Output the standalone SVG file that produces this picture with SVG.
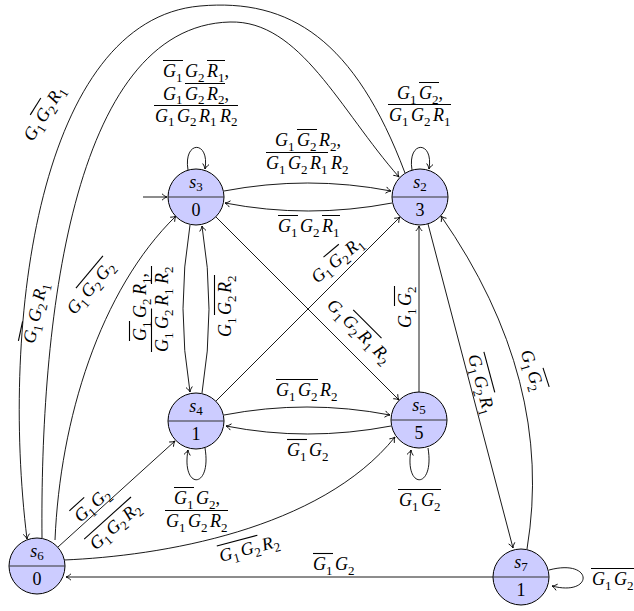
<svg xmlns="http://www.w3.org/2000/svg" width="634" height="611" viewBox="0 0 634 611">
<style>
.bg{fill:#ffffff}
.node circle{fill:#ccccff;stroke:#000;stroke-width:1}
.node .sp{stroke:#333;stroke-width:1.2}
.nt{font-family:"Liberation Serif",serif;font-size:18px;fill:#000}
.ns{font-family:"Liberation Serif",serif;font-size:18px;font-style:italic}
.e{fill:none;stroke:#000;stroke-width:0.9}
.t{font-family:"Liberation Serif",serif;font-size:18px;font-style:italic;fill:#000}
.s{font-size:13px;font-style:normal}
.n{font-style:normal}
.ov{stroke:#000;stroke-width:1.1;fill:none}
</style>
<defs>
<marker id="ar" markerWidth="10" markerHeight="10" refX="0" refY="0" viewBox="-6 -5 8 10" orient="auto" markerUnits="userSpaceOnUse">
<path d="M-5,-3.2 C-3,-1.3 -1.2,-0.3 0,0 C-1.2,0.3 -3,1.3 -5,3.2" fill="none" stroke="#000" stroke-width="0.9"/>
</marker>
</defs>
<rect class="bg" x="0" y="0" width="634" height="611"/>

<g id="connectors">
<path class="e" d="M143,197 H167" marker-end="url(#ar)"/>
<path class="e" d="M188,170 C183,140 210,140 205,169" marker-end="url(#ar)"/>
<path class="e" d="M412,170 C407,140 434,140 429,169" marker-end="url(#ar)"/>
<path class="e" d="M224,191 Q308,175 391,191" marker-end="url(#ar)"/>
<path class="e" d="M392,203 Q308,219 225,203" marker-end="url(#ar)"/>
<path class="e" d="M190,225 Q176,309 190,392" marker-end="url(#ar)"/>
<path class="e" d="M202,393 Q216,309 202,226" marker-end="url(#ar)"/>
<path class="e" d="M216,217 L399,400" marker-end="url(#ar)"/>
<path class="e" d="M216,401 L400,217" marker-end="url(#ar)"/>
<path class="e" d="M419,392 L419,226" marker-end="url(#ar)"/>
<path class="e" d="M428,224 L513,548" marker-end="url(#ar)"/>
<path class="e" d="M527,549 Q555,380 441,216" marker-end="url(#ar)"/>
<path class="e" d="M224,415 Q307,399 390,415" marker-end="url(#ar)"/>
<path class="e" d="M391,426 Q307,442 226,426" marker-end="url(#ar)"/>
<path class="e" d="M205,448 C212,490 181,490 188,450" marker-end="url(#ar)"/>
<path class="e" d="M428,448 C435,490 404,490 411,450" marker-end="url(#ar)"/>
<path class="e" d="M58,547 L175,441" marker-end="url(#ar)"/>
<path class="e" d="M64,560 C160,556 320,530 395,437" marker-end="url(#ar)"/>
<path class="e" d="M493,577 L66,577" marker-end="url(#ar)"/>
<path class="e" d="M549,570 C594,558 594,597 552,586" marker-end="url(#ar)"/>
<path class="e" d="M405,173 C355,40 290,-2 200,6 C40,20 0,320 27,539" marker-end="url(#ar)"/>
<path class="e" d="M42,538 C40,330 70,26 230,22 C300,20 340,110 399,177" marker-end="url(#ar)"/>
<path class="e" d="M55,540 C60,420 100,290 176,216" marker-end="url(#ar)"/>
</g>

<g id="labels">
<g id="lbl-s3-loop">
<text class="t"><tspan x="163" y="77">G</tspan><tspan class="s" y="81.5">1</tspan><tspan x="185" y="77">G</tspan><tspan class="s" y="81.5">2</tspan><tspan x="207" y="77">R</tspan><tspan class="s" y="81.5">1</tspan><tspan class="n" y="77">,</tspan></text>
<text class="t"><tspan x="163" y="100">G</tspan><tspan class="s" y="104">1</tspan><tspan x="185" y="100">G</tspan><tspan class="s" y="104">2</tspan><tspan x="207" y="100">R</tspan><tspan class="s" y="104">2</tspan><tspan class="n" y="100">,</tspan></text>
<text class="t"><tspan x="155" y="122">G</tspan><tspan class="s" y="126">1</tspan><tspan x="177" y="122">G</tspan><tspan class="s" y="126">2</tspan><tspan x="199" y="122">R</tspan><tspan class="s" y="126">1</tspan><tspan x="220" y="122">R</tspan><tspan class="s" y="126">2</tspan></text>
<path class="ov" d="M163,60.5 H183 M207,60.5 H225 M185,83.5 H225 M154,105.5 H238"/>
</g>
<g id="lbl-s2-loop">
<text class="t"><tspan x="397" y="99">G</tspan><tspan class="s" y="103.5">1</tspan><tspan x="419" y="99">G</tspan><tspan class="s" y="103.5">2</tspan><tspan class="n" y="99">,</tspan></text>
<text class="t"><tspan x="389" y="121">G</tspan><tspan class="s" y="125.5">1</tspan><tspan x="411" y="121">G</tspan><tspan class="s" y="125.5">2</tspan><tspan x="433" y="121">R</tspan><tspan class="s" y="125.5">1</tspan></text>
<path class="ov" d="M419,82.5 H439 M388,104.5 H451"/>
</g>
<g id="lbl-s3-s2">
<text class="t"><tspan x="275" y="146">G</tspan><tspan class="s" y="150.5">1</tspan><tspan x="297" y="146">G</tspan><tspan class="s" y="150.5">2</tspan><tspan x="319" y="146">R</tspan><tspan class="s" y="150.5">2</tspan><tspan class="n" y="146">,</tspan></text>
<text class="t"><tspan x="266" y="169">G</tspan><tspan class="s" y="173.5">1</tspan><tspan x="288" y="169">G</tspan><tspan class="s" y="173.5">2</tspan><tspan x="310" y="169">R</tspan><tspan class="s" y="173.5">1</tspan><tspan x="331" y="169">R</tspan><tspan class="s" y="173.5">2</tspan></text>
<path class="ov" d="M297,129.5 H317 M266,152.5 H328"/>
</g>
<g id="lbl-s2-s3">
<text class="t"><tspan x="278" y="232">G</tspan><tspan class="s" y="236.5">1</tspan><tspan x="300" y="232">G</tspan><tspan class="s" y="236.5">2</tspan><tspan x="322" y="232">R</tspan><tspan class="s" y="236.5">1</tspan></text>
<path class="ov" d="M278,215.5 H298 M322,215.5 H340"/>
</g>
<g id="lbl-s4-s5">
<text class="t"><tspan x="276" y="396">G</tspan><tspan class="s" y="400.5">1</tspan><tspan x="298" y="396">G</tspan><tspan class="s" y="400.5">2</tspan><tspan x="320" y="396">R</tspan><tspan class="s" y="400.5">2</tspan></text>
<path class="ov" d="M276,379.5 H318"/>
</g>
<g id="lbl-s5-s4">
<text class="t"><tspan x="287" y="456">G</tspan><tspan class="s" y="460.5">1</tspan><tspan x="309" y="456">G</tspan><tspan class="s" y="460.5">2</tspan></text>
<path class="ov" d="M287,439.5 H307"/>
</g>
<g id="lbl-s4-loop">
<text class="t"><tspan x="174" y="504">G</tspan><tspan class="s" y="508.5">1</tspan><tspan x="196" y="504">G</tspan><tspan class="s" y="508.5">2</tspan><tspan class="n" y="504">,</tspan></text>
<text class="t"><tspan x="166" y="527">G</tspan><tspan class="s" y="531.5">1</tspan><tspan x="188" y="527">G</tspan><tspan class="s" y="531.5">2</tspan><tspan x="210" y="527">R</tspan><tspan class="s" y="531.5">2</tspan></text>
<path class="ov" d="M174,487.5 H194 M165,510.5 H228"/>
</g>
<g id="lbl-s5-loop">
<text class="t"><tspan x="399" y="506">G</tspan><tspan class="s" y="510.5">1</tspan><tspan x="421" y="506">G</tspan><tspan class="s" y="510.5">2</tspan></text>
<path class="ov" d="M398,489.5 H441"/>
</g>
<g id="lbl-s7-loop">
<text class="t"><tspan x="592" y="585">G</tspan><tspan class="s" y="589.5">1</tspan><tspan x="614" y="585">G</tspan><tspan class="s" y="589.5">2</tspan></text>
<path class="ov" d="M591,568.5 H634"/>
</g>
<g id="lbl-s7-s6">
<text class="t"><tspan x="313" y="570">G</tspan><tspan class="s" y="574.5">1</tspan><tspan x="335" y="570">G</tspan><tspan class="s" y="574.5">2</tspan></text>
<path class="ov" d="M313,553.5 H333"/>
</g>
<g id="lbl-s3-s4" transform="translate(146,305) rotate(-90)">
<text class="t"><tspan x="-36" y="0">G</tspan><tspan class="s" y="4.5">1</tspan><tspan x="-13" y="0">G</tspan><tspan class="s" y="4.5">2</tspan><tspan x="10" y="0">R</tspan><tspan class="s" y="4.5">1</tspan><tspan class="n" y="0">,</tspan></text>
<text class="t"><tspan x="-47" y="22">G</tspan><tspan class="s" y="26.5">1</tspan><tspan x="-24" y="22">G</tspan><tspan class="s" y="26.5">2</tspan><tspan x="-1" y="22">R</tspan><tspan class="s" y="26.5">1</tspan><tspan x="21" y="22">R</tspan><tspan class="s" y="26.5">2</tspan></text>
<path class="ov" d="M-36,-16.5 H-16 M-47,5.5 H-3.5 M21,5.5 H39"/>
</g>
<g id="lbl-s4-s3" transform="translate(231,306) rotate(-90)">
<text class="t"><tspan x="-31" y="0">G</tspan><tspan class="s" y="4.5">1</tspan><tspan x="-9" y="0">G</tspan><tspan class="s" y="4.5">2</tspan><tspan x="13" y="0">R</tspan><tspan class="s" y="4.5">2</tspan></text>
<path class="ov" d="M-9,-16.5 H31"/>
</g>
<g id="lbl-s4-s2" transform="translate(341,264) rotate(-40)">
<text class="t"><tspan x="-31" y="0">G</tspan><tspan class="s" y="4.5">1</tspan><tspan x="-9" y="0">G</tspan><tspan class="s" y="4.5">2</tspan><tspan x="13" y="0">R</tspan><tspan class="s" y="4.5">1</tspan></text>
<path class="ov" d="M-9,-16.5 H11"/>
</g>
<g id="lbl-s3-s5" transform="translate(355,335) rotate(45)">
<text class="t"><tspan x="-41" y="0">G</tspan><tspan class="s" y="4.5">1</tspan><tspan x="-19" y="0">G</tspan><tspan class="s" y="4.5">2</tspan><tspan x="3" y="0">R</tspan><tspan class="s" y="4.5">1</tspan><tspan x="24" y="0">R</tspan><tspan class="s" y="4.5">2</tspan></text>
<path class="ov" d="M-19,-16.5 H21"/>
</g>
<g id="lbl-s5-s2" transform="translate(411,307) rotate(-90)">
<text class="t"><tspan x="-21" y="0">G</tspan><tspan class="s" y="4.5">1</tspan><tspan x="1" y="0">G</tspan><tspan class="s" y="4.5">2</tspan></text>
<path class="ov" d="M1,-16.5 H21"/>
</g>
<g id="lbl-s2-s7" transform="translate(476,386) rotate(75)">
<text class="t"><tspan x="-31" y="0">G</tspan><tspan class="s" y="4.5">1</tspan><tspan x="-9" y="0">G</tspan><tspan class="s" y="4.5">2</tspan><tspan x="13" y="0">R</tspan><tspan class="s" y="4.5">1</tspan></text>
<path class="ov" d="M-31,-16.5 H11"/>
</g>
<g id="lbl-s7-s2" transform="translate(527,372) rotate(72)">
<text class="t"><tspan x="-21" y="0">G</tspan><tspan class="s" y="4.5">1</tspan><tspan x="1" y="0">G</tspan><tspan class="s" y="4.5">2</tspan></text>
<path class="ov" d="M1,-16.5 H21"/>
</g>
<g id="lbl-s6-s4a" transform="translate(96,509) rotate(-42)">
<text class="t"><tspan x="-21" y="0">G</tspan><tspan class="s" y="4.5">1</tspan><tspan x="1" y="0">G</tspan><tspan class="s" y="4.5">2</tspan></text>
<path class="ov" d="M-21,-16.5 H-1"/>
</g>
<g id="lbl-s6-s4b" transform="translate(119,530) rotate(-42)">
<text class="t"><tspan x="-31" y="0">G</tspan><tspan class="s" y="4.5">1</tspan><tspan x="-9" y="0">G</tspan><tspan class="s" y="4.5">2</tspan><tspan x="13" y="0">R</tspan><tspan class="s" y="4.5">2</tspan></text>
<path class="ov" d="M-32,-16.5 H31"/>
</g>
<g id="lbl-s6-s5" transform="translate(251,554) rotate(-15)">
<text class="t"><tspan x="-31" y="0">G</tspan><tspan class="s" y="4.5">1</tspan><tspan x="-9" y="0">G</tspan><tspan class="s" y="4.5">2</tspan><tspan x="13" y="0">R</tspan><tspan class="s" y="4.5">2</tspan></text>
<path class="ov" d="M-31,-16.5 H11"/>
</g>
<g id="lbl-outer" transform="translate(49,116) rotate(-58)">
<text class="t"><tspan x="-31" y="0">G</tspan><tspan class="s" y="4.5">1</tspan><tspan x="-9" y="0">G</tspan><tspan class="s" y="4.5">2</tspan><tspan x="13" y="0">R</tspan><tspan class="s" y="4.5">1</tspan></text>
<path class="ov" d="M-9,-16.5 H11"/>
</g>
<g id="lbl-middle" transform="translate(41,314) rotate(-78)">
<text class="t"><tspan x="-31" y="0">G</tspan><tspan class="s" y="4.5">1</tspan><tspan x="-9" y="0">G</tspan><tspan class="s" y="4.5">2</tspan><tspan x="13" y="0">R</tspan><tspan class="s" y="4.5">1</tspan></text>
<path class="ov" d="M-31,-16.5 H-11"/>
</g>
<g id="lbl-inner" transform="translate(95,291) rotate(-50)">
<text class="t"><tspan x="-32" y="0">G</tspan><tspan class="s" y="4.5">1</tspan><tspan x="-10" y="0">G</tspan><tspan class="s" y="4.5">2</tspan><tspan x="12" y="0">G</tspan><tspan class="s" y="4.5">2</tspan></text>
<path class="ov" d="M-10,-16.5 H32"/>
</g>
</g>

<g id="s3" class="node"><circle cx="196" cy="197" r="28"/><line class="sp" x1="168" y1="197" x2="224" y2="197"/>
<text class="ns" x="196" y="188" text-anchor="middle">s<tspan class="s" dy="3">3</tspan></text><text class="nt" x="196" y="216" text-anchor="middle">0</text></g>
<g id="s2" class="node"><circle cx="420" cy="197" r="28"/><line class="sp" x1="392" y1="197" x2="448" y2="197"/>
<text class="ns" x="420" y="188" text-anchor="middle">s<tspan class="s" dy="3">2</tspan></text><text class="nt" x="420" y="216" text-anchor="middle">3</text></g>
<g id="s4" class="node"><circle cx="196" cy="421" r="28"/><line class="sp" x1="168" y1="421" x2="224" y2="421"/>
<text class="ns" x="196" y="412" text-anchor="middle">s<tspan class="s" dy="3">4</tspan></text><text class="nt" x="196" y="440" text-anchor="middle">1</text></g>
<g id="s5" class="node"><circle cx="419" cy="420" r="28"/><line class="sp" x1="391" y1="420" x2="447" y2="420"/>
<text class="ns" x="419" y="411" text-anchor="middle">s<tspan class="s" dy="3">5</tspan></text><text class="nt" x="419" y="439" text-anchor="middle">5</text></g>
<g id="s6" class="node"><circle cx="37" cy="566" r="28"/><line class="sp" x1="9" y1="566" x2="65" y2="566"/>
<text class="ns" x="37" y="557" text-anchor="middle">s<tspan class="s" dy="3">6</tspan></text><text class="nt" x="37" y="585" text-anchor="middle">0</text></g>
<g id="s7" class="node"><circle cx="521" cy="577" r="28"/><line class="sp" x1="493" y1="577" x2="549" y2="577"/>
<text class="ns" x="521" y="568" text-anchor="middle">s<tspan class="s" dy="3">7</tspan></text><text class="nt" x="521" y="596" text-anchor="middle">1</text></g>
</svg>
